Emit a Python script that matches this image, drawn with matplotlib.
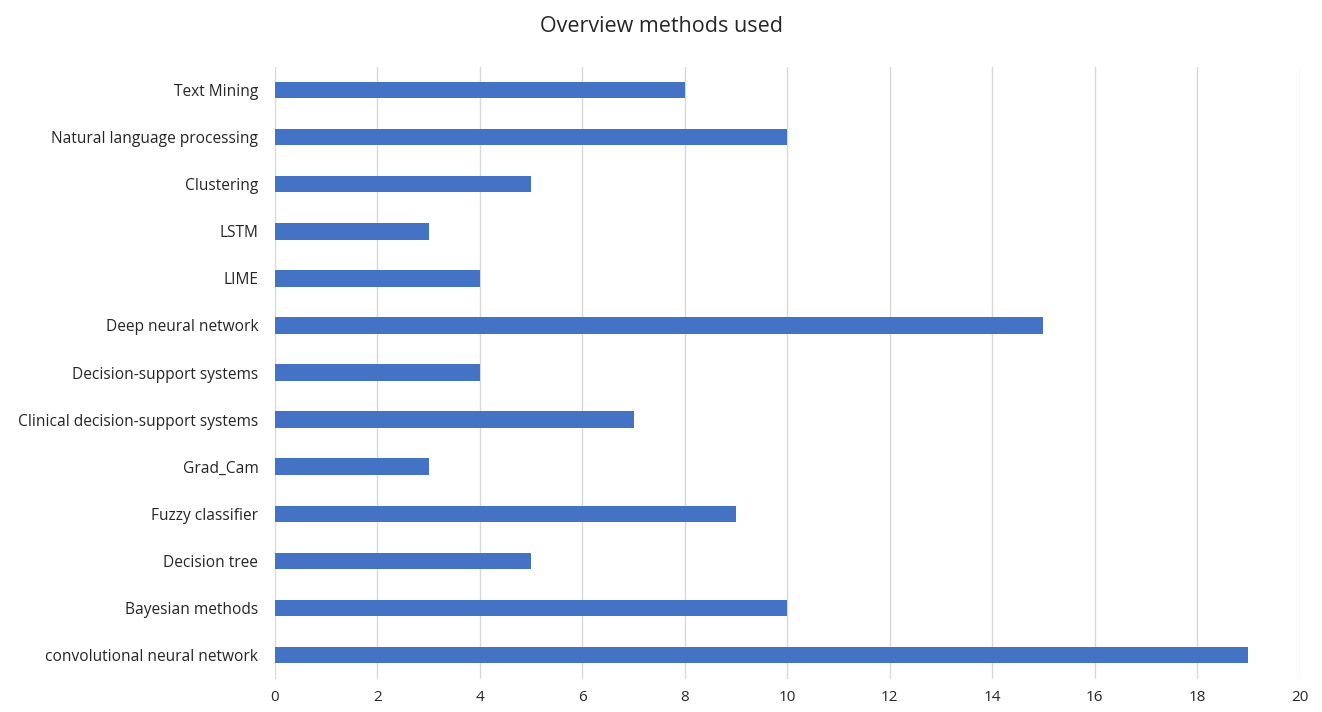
import matplotlib
matplotlib.use("Agg")
import matplotlib.pyplot as plt

methods = [
    "Text Mining",
    "Natural language processing",
    "Clustering",
    "LSTM",
    "LIME",
    "Deep neural network",
    "Decision-support systems",
    "Clinical decision-support systems",
    "Grad_Cam",
    "Fuzzy classifier",
    "Decision tree",
    "Bayesian methods",
    "convolutional neural network",
]
counts = [8, 10, 5, 3, 4, 15, 4, 7, 3, 9, 5, 10, 19]
x_ticks = list(range(0, 21, 2))

plt.rcParams["font.family"] = ["Open Sans", "DejaVu Sans"]

fig = plt.figure(figsize=(13.22, 7.12), dpi=100)
ax = fig.add_axes([0.208, 0.047, 0.775, 0.8596])

pos = list(range(len(methods)))[::-1]
ax.barh(pos, counts, height=0.35, color="#4472C4", zorder=3)

ax.set_yticks(pos)
ax.set_yticklabels(methods, fontsize=11.2, color="#262626")
ax.set_ylim(-0.5, len(methods) - 0.5)
ax.set_xlim(0, 20)
ax.set_xticks(x_ticks)
ax.tick_params(axis="x", labelsize=11, colors="#262626", length=0, pad=8)
ax.tick_params(axis="y", length=0, pad=12)
ax.grid(axis="x", color="#D9D9D9", lw=1, zorder=0)
for s in ax.spines.values():
    s.set_visible(False)

fig.text(0.5, 0.963, "Overview methods used", ha="center", va="center",
         fontsize=15.5, color="#262626")

fig.savefig("out.png", dpi=100)
